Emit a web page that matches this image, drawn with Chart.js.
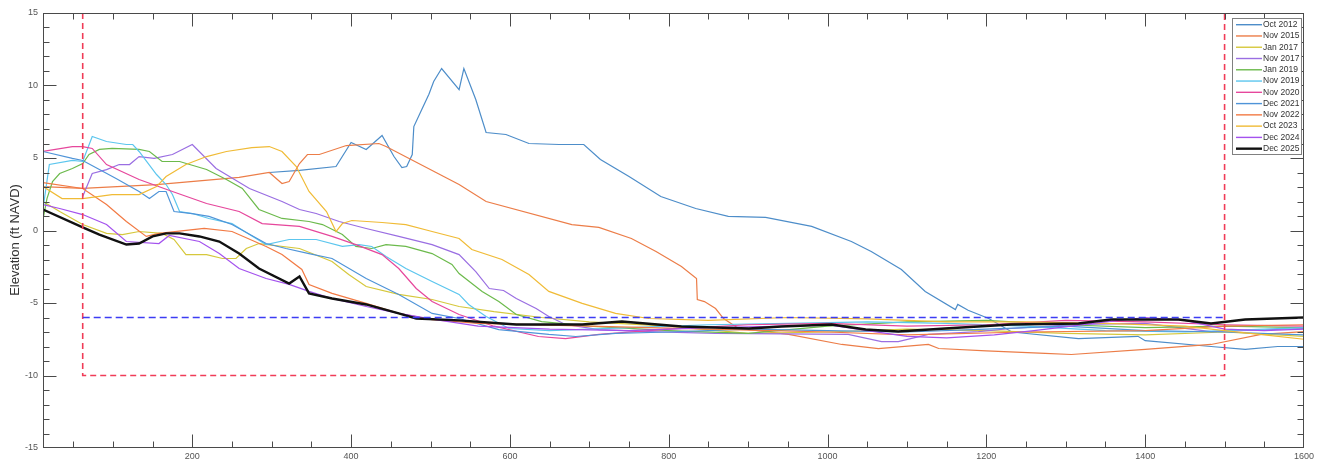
<!DOCTYPE html>
<html>
<head>
<meta charset="utf-8">
<title>Beach profile surveys</title>
<script src="https://cdn.jsdelivr.net/npm/chart.js@4.4.1/dist/chart.umd.min.js"></script>
<style>
  html, body { margin: 0; padding: 0; background: #fff; }
  #wrap { width: 1317px; height: 466px; position: relative; }
</style>
</head>
<body>
<div id="wrap"><canvas id="profileChart"></canvas></div>
<script>
// survey profiles: [distance along transect, elevation ft NAVD]
const oct2012 = [[297,4.0],[335,4.14],[381,4.41],[400,6.07],[419,5.59],[439,6.55],[454,5.1],[464,4.34],[470,4.41],[477,5.24],[479,7.17],[489,8.34],[498,9.4],[504,10.28],[514,11.17],[536,9.72],[542,11.17],[557,9.03],[570,6.76],[595,6.62],[624,6.0],[662,5.93],[693,5.93],[714,4.9],[750,3.72],[790,2.34],[834,1.52],[875,0.97],[922,0.9],[980,0.28],[1030,-0.76],[1055,-1.45],[1093,-2.69],[1123,-4.2],[1161,-5.45],[1164,-5.1],[1177,-5.5],[1203,-6.07],[1232,-7.0],[1316,-7.45],[1391,-7.3],[1400,-7.6],[1483,-8.0],[1526,-8.2],[1567,-8.0],[1600,-8.0]];
const nov2015 = [[12,3.03],[62,2.9],[155,3.17],[259,3.66],[297,4.0],[313,3.24],[322,3.38],[335,4.62],[345,5.24],[360,5.24],[394,5.86],[435,6.0],[444,5.79],[536,3.17],[570,2.0],[678,0.41],[712,0.21],[753,-0.55],[784,-1.45],[816,-2.48],[835,-3.31],[836,-4.76],[845,-4.9],[859,-5.38],[869,-6.07],[888,-6.76],[951,-7.17],[1018,-7.86],[1064,-8.14],[1127,-7.86],[1140,-8.14],[1200,-8.3],[1274,-8.48],[1307,-8.55],[1400,-8.2],[1483,-7.86],[1546,-7.17],[1600,-6.97]];
const jan2017 = [[12,2.0],[33,1.31],[62,0.41],[92,-0.2],[112,-0.28],[133,-0.07],[162,-0.2],[177,-0.62],[192,-1.66],[218,-1.66],[238,-1.93],[255,-1.93],[268,-1.24],[284,-0.9],[335,-1.24],[376,-2.14],[397,-3.03],[419,-3.86],[460,-4.41],[502,-4.76],[536,-5.24],[580,-5.6],[640,-6.0],[700,-6.3],[800,-6.6],[900,-7.1],[1000,-7.0],[1100,-6.8],[1200,-6.9],[1300,-7.1],[1400,-7.2],[1500,-7.0],[1600,-7.3]];
const nov2017 = [[62,2.34],[74,3.93],[92,4.2],[108,4.55],[121,4.55],[133,5.1],[152,4.97],[175,5.24],[200,5.93],[230,4.28],[272,2.9],[313,2.0],[335,1.45],[356,1.17],[385,0.62],[419,0.14],[460,-0.41],[502,-0.97],[536,-1.66],[557,-2.83],[574,-4.0],[592,-4.14],[608,-4.69],[633,-5.38],[649,-5.93],[670,-6.48],[712,-6.83],[775,-6.97],[859,-7.1],[1026,-7.17],[1068,-7.66],[1089,-7.66],[1127,-7.17],[1190,-6.97],[1231,-6.76],[1316,-6.48],[1400,-6.41],[1483,-6.97],[1600,-6.76]];
const jan2019 = [[12,0.76],[17,2.2],[24,3.38],[33,3.93],[49,4.28],[62,4.62],[70,5.24],[83,5.59],[99,5.66],[133,5.59],[146,5.45],[162,4.76],[184,4.76],[218,4.21],[243,3.52],[263,2.9],[284,1.45],[313,0.83],[347,0.62],[364,0.41],[389,-0.28],[406,-1.1],[426,-1.24],[444,-0.97],[469,-1.1],[502,-1.59],[527,-2.34],[536,-2.97],[565,-4.2],[586,-4.9],[608,-5.79],[640,-6.28],[700,-6.6],[800,-6.9],[900,-7.1],[1000,-6.6],[1100,-6.3],[1200,-6.2],[1300,-6.5],[1400,-6.7],[1500,-6.6],[1600,-6.7]];
const nov2019 = [[12,1.5],[20,4.55],[49,4.83],[62,4.76],[74,6.48],[92,6.14],[117,5.93],[125,5.93],[133,5.45],[155,3.86],[167,3.17],[175,2.48],[184,1.31],[200,1.17],[221,0.83],[250,0.48],[272,-0.28],[293,-0.97],[322,-0.62],[356,-0.62],[389,-1.1],[410,-0.97],[426,-1.1],[444,-1.79],[469,-2.62],[502,-3.52],[536,-4.41],[548,-5.1],[570,-5.93],[599,-6.76],[650,-6.9],[750,-6.7],[850,-6.5],[950,-6.4],[1050,-6.3],[1150,-6.4],[1250,-6.6],[1350,-6.9],[1450,-7.0],[1500,-6.9],[1600,-6.7]];
const nov2020 = [[12,5.45],[49,5.79],[62,5.79],[74,5.66],[92,4.55],[133,3.52],[175,2.69],[218,1.86],[259,1.31],[288,0.48],[335,0.28],[376,-0.41],[406,-0.97],[439,-1.66],[460,-2.62],[482,-4.0],[502,-4.9],[536,-5.79],[580,-6.6],[636,-7.31],[670,-7.45],[712,-7.17],[800,-6.8],[900,-6.5],[1000,-6.4],[1100,-6.6],[1200,-6.5],[1300,-6.2],[1400,-6.3],[1500,-6.5],[1600,-6.6]];
const dec2021 = [[12,5.45],[49,4.97],[62,4.83],[83,4.21],[104,3.59],[133,2.69],[146,2.2],[158,2.69],[167,2.69],[177,1.31],[200,1.17],[221,0.97],[250,0.41],[293,-0.9],[318,-1.24],[347,-1.59],[376,-1.93],[419,-3.31],[460,-4.41],[502,-5.72],[536,-6.07],[586,-6.83],[649,-7.17],[683,-7.31],[733,-7.1],[800,-7.0],[900,-6.8],[1000,-6.9],[1100,-7.0],[1200,-6.8],[1300,-6.6],[1400,-6.9],[1500,-7.0],[1600,-7.2]];
const nov2022 = [[12,3.3],[62,2.9],[92,1.79],[117,0.62],[142,-0.41],[158,-0.2],[215,0.14],[250,-0.07],[293,-1.1],[313,-1.66],[338,-2.69],[347,-3.72],[376,-4.34],[419,-5.03],[460,-5.72],[502,-6.14],[560,-6.4],[700,-6.6],[850,-6.8],[1000,-7.0],[1100,-7.2],[1250,-7.0],[1400,-6.9],[1500,-6.6],[1600,-6.5]];
const oct2023 = [[12,3.03],[36,2.2],[62,2.2],[99,2.48],[133,2.48],[155,3.03],[167,3.72],[192,4.55],[218,5.1],[243,5.45],[275,5.72],[297,5.79],[313,5.45],[331,4.41],[347,2.69],[369,1.31],[381,-0.07],[389,0.48],[401,0.69],[439,0.55],[469,0.41],[502,-0.07],[536,-0.55],[552,-1.31],[590,-2.0],[624,-3.03],[649,-4.2],[691,-5.03],[733,-5.72],[775,-6.07],[850,-6.2],[950,-6.0],[1050,-6.1],[1150,-6.3],[1250,-6.3],[1350,-6.4],[1450,-6.6],[1500,-6.9],[1550,-7.2],[1600,-7.5]];
const dec2024 = [[12,1.79],[33,1.52],[62,1.1],[92,0.41],[117,-0.76],[158,-0.9],[171,-0.34],[209,-0.76],[234,-1.59],[259,-2.62],[293,-3.31],[322,-3.72],[347,-4.2],[376,-4.69],[419,-5.24],[460,-5.72],[500,-6.1],[560,-6.6],[650,-6.8],[750,-6.9],[850,-6.7],[950,-6.6],[1000,-6.5],[1050,-6.9],[1100,-7.3],[1150,-7.4],[1210,-7.2],[1260,-6.9],[1350,-6.3],[1400,-6.0],[1450,-6.2],[1500,-6.8],[1550,-6.9],[1600,-6.8]];
const dec2025 = [[12,1.45],[62,0.21],[83,-0.28],[117,-0.97],[133,-0.9],[150,-0.41],[167,-0.2],[184,-0.2],[209,-0.41],[234,-0.76],[259,-1.59],[284,-2.62],[322,-3.66],[335,-3.17],[347,-4.34],[376,-4.69],[419,-5.1],[460,-5.72],[482,-6.07],[536,-6.2],[608,-6.48],[691,-6.48],[741,-6.28],[816,-6.62],[901,-6.76],[942,-6.62],[1005,-6.48],[1048,-6.83],[1089,-6.97],[1148,-6.76],[1231,-6.48],[1316,-6.41],[1357,-6.14],[1442,-6.14],[1483,-6.41],[1526,-6.14],[1600,-6.0]];

const surveys = [oct2012, nov2015, jan2017, nov2017, jan2019, nov2019, nov2020, dec2021, nov2022, oct2023, dec2024, dec2025];
const surveyNames = ['Oct 2012','Nov 2015','Jan 2017','Nov 2017','Jan 2019','Nov 2019','Nov 2020','Dec 2021','Nov 2022','Oct 2023','Dec 2024','Dec 2025'];
const surveyColors = ['#4d8dc9','#ec7d48','#d6c83c','#9a6ee2','#6cba4c','#5cc6ee','#e6479c','#4f94d8','#f27a44','#f0bb36','#a452ee','#111111'];

// placement zone (dashed box) and design depth (dashed line)
const zoneX = [62, 1500];
const zoneY = [-10, 15];
const designDepth = -6;

const xRange = [12, 1600];
const yRange = [-15, 15];
const xLabelTicks = [200, 400, 600, 800, 1000, 1200, 1400, 1600];
const yTitle = 'Elevation (ft NAVD)';

const fontFamily = "'Liberation Sans', Arial, Helvetica, sans-serif";
const axisColor = '#4a4a4a';

let datasets = surveys.map((pts, i) => ({
  label: surveyNames[i],
  data: pts.map(p => ({ x: p[0], y: p[1] })),
  borderColor: surveyColors[i],
  borderWidth: surveyNames[i] === 'Dec 2025' ? 2.4 : 1.2,
  pointRadius: 0,
  tension: 0,
  fill: false,
  order: 100 - i
}));

datasets.push({
  label: 'zone',
  data: [
    { x: zoneX[0], y: zoneY[1] }, { x: zoneX[0], y: zoneY[0] },
    { x: zoneX[1], y: zoneY[0] }, { x: zoneX[1], y: zoneY[1] }
  ],
  borderColor: '#f03c58',
  borderWidth: 1.6,
  borderDash: [6, 4],
  pointRadius: 0,
  order: -1
});
datasets.push({
  label: 'depth',
  data: [{ x: zoneX[0], y: designDepth }, { x: zoneX[1], y: designDepth }],
  borderColor: '#3c3cf4',
  borderWidth: 1.6,
  borderDash: [7, 4],
  pointRadius: 0,
  order: -2
});

// box axes with inward ticks, y label and legend, drawn like the old figure
const axesFrame = {
  id: 'axesFrame',
  afterDraw(chart) {
    const { ctx, chartArea: a, scales } = chart;
    const x = scales.x, y = scales.y;
    ctx.save();
    ctx.strokeStyle = axisColor;
    ctx.lineWidth = 1;
    const L = Math.round(a.left) + 0.5, R = Math.round(a.right) - 0.5;
    const T = Math.round(a.top) + 0.5, B = Math.round(a.bottom) - 0.5;
    ctx.strokeRect(L, T, R - L, B - T);

    ctx.beginPath();
    for (let v = 50; v < xRange[1]; v += 50) {
      const px = Math.round(x.getPixelForValue(v)) + 0.5;
      const len = v % 200 === 0 ? 13 : 6;
      ctx.moveTo(px, B); ctx.lineTo(px, B - len);
      ctx.moveTo(px, T); ctx.lineTo(px, T + len);
    }
    for (let v = yRange[0] + 1; v < yRange[1]; v++) {
      const py = Math.round(y.getPixelForValue(v)) + 0.5;
      const len = v % 5 === 0 ? 13 : 6;
      ctx.moveTo(L, py); ctx.lineTo(L + len, py);
      ctx.moveTo(R, py); ctx.lineTo(R - len, py);
    }
    ctx.stroke();

    // y axis title
    ctx.save();
    ctx.translate(15, 240);
    ctx.rotate(-Math.PI / 2);
    ctx.fillStyle = '#333';
    ctx.font = '13px ' + fontFamily;
    ctx.textAlign = 'center';
    ctx.textBaseline = 'middle';
    ctx.fillText(yTitle, 0, 0);
    ctx.restore();

    // legend
    const lx = 1232.5, ly = 18.5, lw = 69, lh = 136;
    ctx.fillStyle = '#fff';
    ctx.fillRect(lx, ly, lw, lh);
    ctx.strokeStyle = '#808080';
    ctx.strokeRect(lx, ly, lw, lh);
    ctx.font = '8.5px ' + fontFamily;
    ctx.textAlign = 'left';
    ctx.textBaseline = 'middle';
    surveyNames.forEach((name, i) => {
      const ry = 24.7 + i * 11.27;
      ctx.strokeStyle = surveyColors[i];
      ctx.lineWidth = name === 'Dec 2025' ? 2.4 : 1.4;
      ctx.beginPath();
      ctx.moveTo(1236, ry); ctx.lineTo(1262, ry);
      ctx.stroke();
      ctx.fillStyle = '#333';
      ctx.fillText(name, 1263, ry);
    });
    ctx.restore();
  }
};

new Chart(document.getElementById('profileChart'), {
  type: 'line',
  data: { datasets: datasets },
  options: {
    responsive: true,
    maintainAspectRatio: false,
    animation: false,
    devicePixelRatio: 1,
    layout: { padding: { left: 0, right: 11, top: 13, bottom: 0 } },
    plugins: { legend: { display: false }, tooltip: { enabled: false } },
    scales: {
      x: {
        type: 'linear',
        min: xRange[0],
        max: xRange[1],
        afterBuildTicks: s => { s.ticks = xLabelTicks.map(v => ({ value: v })); },
        afterFit: s => { s.height = 18; },
        ticks: {
          autoSkip: false, maxRotation: 0, padding: 3,
          color: '#555', font: { family: fontFamily, size: 9 },
          callback: v => String(v)
        },
        grid: { display: false, drawTicks: false },
        border: { display: false }
      },
      y: {
        type: 'linear',
        min: yRange[0],
        max: yRange[1],
        afterFit: s => { s.width = 43; },
        ticks: {
          stepSize: 5, padding: 5,
          color: '#555', font: { family: fontFamily, size: 9 },
          callback: v => String(v)
        },
        grid: { display: false, drawTicks: false },
        border: { display: false }
      }
    }
  },
  plugins: [axesFrame]
});
</script>
</body>
</html>
